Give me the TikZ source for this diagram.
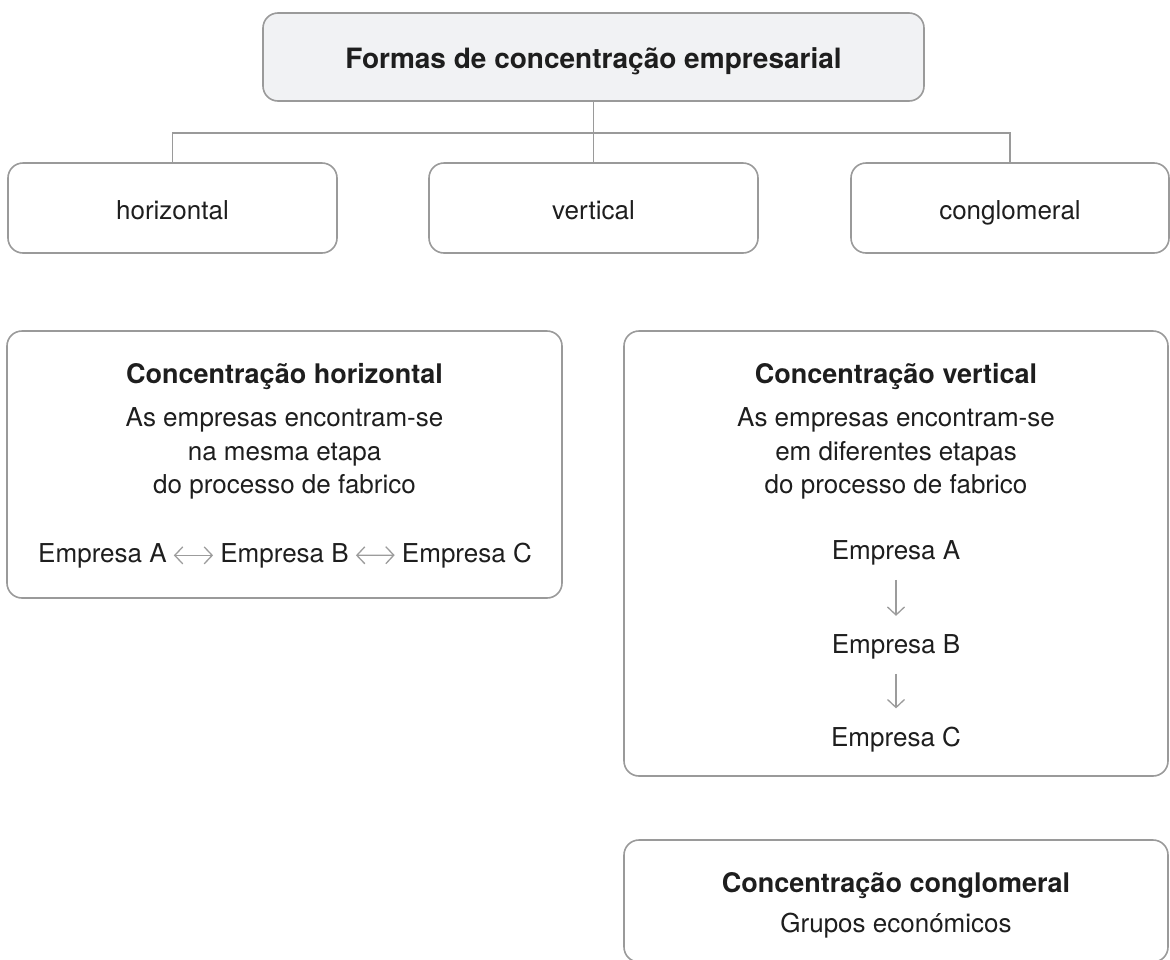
\documentclass[tikz,border=0pt]{standalone}
\usepackage{fontspec}
\setmainfont{TeX Gyre Heros}
\usetikzlibrary{arrows.meta}
\definecolor{boxline}{HTML}{9A9A9A}
\definecolor{topfill}{HTML}{F1F2F4}
\definecolor{ink}{HTML}{1E1E1E}
\definecolor{arrowgray}{HTML}{9C9C9C}
\begin{document}
\begin{tikzpicture}[x=1pt,y=-1pt,
  frame/.style={draw=boxline, line width=1.6pt, rounded corners=15pt, rectangle, inner sep=0pt},
  lbl/.style={text=ink, font=\fontsize{26}{31}\selectfont, inner sep=0pt},
  ttl/.style={text=ink, font=\fontsize{27}{32}\selectfont\bfseries, inner sep=0pt},
  bigttl/.style={text=ink, font=\fontsize{28}{34}\selectfont\bfseries, inner sep=0pt},
  conn/.style={draw=boxline, line width=1.6pt},
  harrow/.style={draw=arrowgray, line width=1.3pt, {Straight Barb[length=8pt,width=17pt]}-{Straight Barb[length=8pt,width=17pt]}},
  varrow/.style={draw=arrowgray, line width=1.3pt, -{Straight Barb[length=8pt,width=17pt]}}]

\useasboundingbox (0,0) rectangle (1170,959);

% top box
\node[frame, fill=topfill, minimum width=661pt, minimum height=88pt] (top) at (593.5,57) {};
\node[bigttl, anchor=base] (toptxt) at (593.5,68) {Formas de concentração empresarial};

% second row
\node[frame, minimum width=329pt, minimum height=90pt] (horiz) at (172.5,208) {};
\node[frame, minimum width=329pt, minimum height=90pt] (vert) at (593.5,208) {};
\node[frame, minimum width=318pt, minimum height=90pt] (cong) at (1010,208) {};
\node[lbl, anchor=base] (thoriz) at (172.5,219) {horizontal};
\node[lbl, anchor=base] (tvert) at (593.5,219) {vertical};
\node[lbl, anchor=base] (tcong) at (1010,219) {conglomeral};

% connectors
\coordinate (hb) at (593.5,133);
\draw[conn] (top.south) -- (vert.north);
\draw[conn] (horiz.north) |- (hb) -| (cong.north);

% lower-left box
\node[frame, minimum width=555pt, minimum height=267pt] (hbox) at (284.5,464.5) {};
\node[ttl, anchor=base] (hT) at (284.5,383) {Concentração horizontal};
\node[lbl, anchor=base] (hL1) at (284.5,426) {As empresas encontram-se};
\node[lbl, anchor=base] (hL2) at (284.5,460) {na mesma etapa};
\node[lbl, anchor=base] (hL3) at (284.5,493) {do processo de fabrico};
\node[lbl, anchor=base west] (eA) at (38,562) {Empresa A};
\node[lbl, anchor=base] (eB) at (284.5,562) {Empresa B};
\node[lbl, anchor=base east] (eC) at (532,562) {Empresa C};
\draw[harrow] ([xshift=7pt]eA.east) -- ([xshift=-7pt]eB.west);
\draw[harrow] ([xshift=7pt]eB.east) -- ([xshift=-7pt]eC.west);

% lower-right box
\node[frame, minimum width=544pt, minimum height=445pt] (vbox) at (896,553.5) {};
\node[ttl, anchor=base] (vT) at (896,383) {Concentração vertical};
\node[lbl, anchor=base] (vL1) at (896,426) {As empresas encontram-se};
\node[lbl, anchor=base] (vL2) at (896,460) {em diferentes etapas};
\node[lbl, anchor=base] (vL3) at (896,493) {do processo de fabrico};
\node[lbl, anchor=base] (vA) at (896,559) {Empresa A};
\node[lbl, anchor=base] (vB) at (896,653) {Empresa B};
\node[lbl, anchor=base] (vC) at (896,746) {Empresa C};
\draw[varrow, shorten <=15pt, shorten >=18pt] (vA.south) -- (vB.north);
\draw[varrow, shorten <=15pt, shorten >=18pt] (vB.south) -- (vC.north);

% bottom box (its lower edge runs just past the picture's edge)
\node[frame, minimum width=544pt, minimum height=122pt] (gbox) at (896,901) {};
\node[ttl, anchor=base] (gT) at (896,892) {Concentração conglomeral};
\node[lbl, anchor=base] (gL) at (896,932) {Grupos económicos};
\end{tikzpicture}
\end{document}
